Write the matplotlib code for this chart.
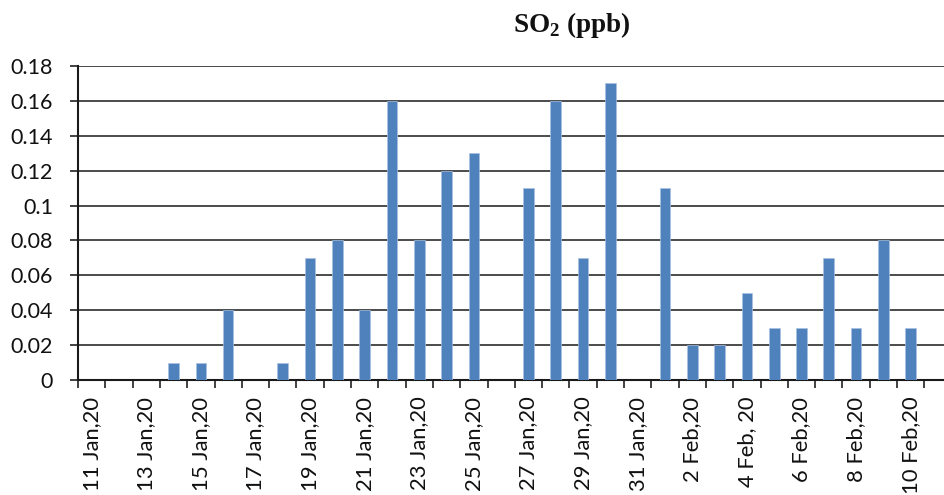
import matplotlib
matplotlib.use("Agg")
import matplotlib.pyplot as plt
import numpy as np

# Daily SO2 concentration, 11 Jan 2020 – 10 Feb 2020
dates = ["11 Jan,20", "12 Jan,20", "13 Jan,20", "14 Jan,20", "15 Jan,20",
         "16 Jan,20", "17 Jan,20", "18 Jan,20", "19 Jan,20", "20 Jan,20",
         "21 Jan,20", "22 Jan,20", "23 Jan,20", "24 Jan,20", "25 Jan,20",
         "26 Jan,20", "27 Jan,20", "28 Jan,20", "29 Jan,20", "30 Jan,20",
         "31 Jan,20", "1 Feb,20", "2 Feb,20", "3 Feb,20", "4 Feb, 20",
         "5 Feb,20", "6 Feb,20", "7 Feb,20", "8 Feb,20", "9 Feb,20",
         "10 Feb,20"]
so2 = [0, 0, 0, 0.01, 0.01, 0.04, 0, 0.01, 0.07, 0.08,
       0.04, 0.16, 0.08, 0.12, 0.13, 0, 0.11, 0.16, 0.07, 0.17,
       0, 0.11, 0.02, 0.02, 0.05, 0.03, 0.03, 0.07, 0.03, 0.08,
       0.03]
yticks = [0, 0.02, 0.04, 0.06, 0.08, 0.1, 0.12, 0.14, 0.16, 0.18]
ytick_labels = ["0", "0.02", "0.04", "0.06", "0.08", "0.1", "0.12",
                "0.14", "0.16", "0.18"]

plt.rcParams["font.family"] = ["Lato", "DejaVu Sans"]
plt.rcParams["mathtext.fontset"] = "custom"
plt.rcParams["mathtext.rm"] = "Liberation Serif:bold"

fig = plt.figure(figsize=(9.44, 4.95), dpi=100)
ax = fig.add_axes([78 / 944, 115 / 495, 1 - 78 / 944, 314 / 495])

x = np.arange(len(dates))
ax.bar(x, so2, width=0.39, color="#4f81bd", edgecolor="#a9c1e0",
       linewidth=0.5, zorder=3)

ax.set_ylim(0, 0.18)
ax.set_xlim(-0.5, 31.22)

# horizontal gridlines
ax.set_yticks(yticks)
ax.set_yticklabels(ytick_labels)
ax.yaxis.grid(True, color="#1a1a1a", linewidth=1.1)
ax.set_axisbelow(True)

# tick marks at category boundaries, labels on every other category
ax.set_xticks(np.arange(-0.5, len(dates) + 0.5, 1.0))
ax.set_xticklabels([])
ax.set_xticks(x[::2], [dates[i] for i in x[::2]], minor=True)
ax.tick_params(axis="x", which="major", direction="out", length=6,
               width=1.3, color="#333333")
ax.tick_params(axis="x", which="minor", length=0, pad=12,
               labelsize=15.8, labelrotation=90, labelcolor="#111111")
ax.tick_params(axis="y", direction="out", length=6, width=1.3,
               color="#333333", pad=12, labelsize=15.5, labelcolor="#111111")
for lbl in ax.get_xticklabels(minor=True):
    lbl.set_verticalalignment("top")

for side in ("top", "right"):
    ax.spines[side].set_visible(False)
for side in ("left", "bottom"):
    ax.spines[side].set_color("#1a1a1a")
    ax.spines[side].set_linewidth(1.5)

fig.text(572 / 944, 1 - 25 / 495, r"SO$_\mathrm{2}$ (ppb)",
         family="Liberation Serif", fontweight="bold", fontsize=19.5,
         ha="center", va="center", color="#111111")

fig.savefig("out.png", dpi=100)
